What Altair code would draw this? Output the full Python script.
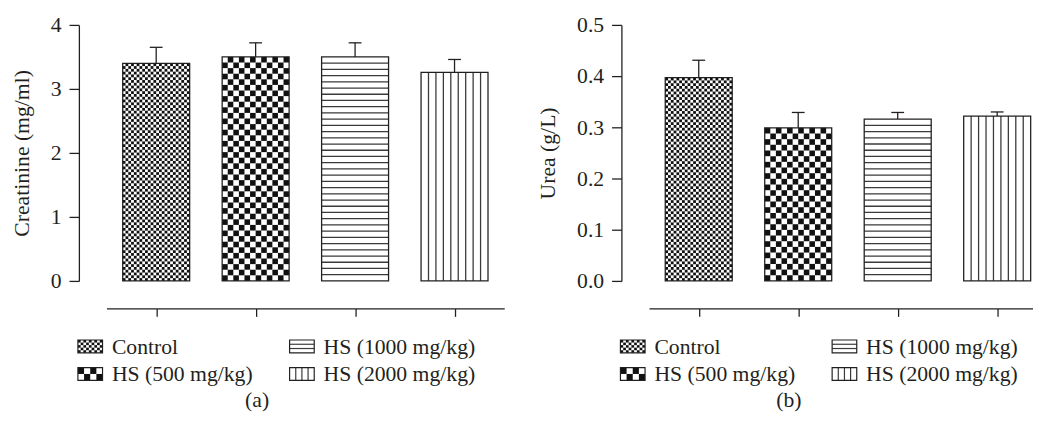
import altair as alt
import pandas as pd

# ---------------- data ----------------
categories = ["Control", "HS (500 mg/kg)", "HS (1000 mg/kg)", "HS (2000 mg/kg)"]
creatinine_mean = [3.40, 3.50, 3.50, 3.26]
creatinine_sem = [0.25, 0.22, 0.22, 0.20]
urea_mean = [0.397, 0.299, 0.316, 0.322]
urea_sem = [0.034, 0.030, 0.013, 0.008]
creatinine_ticks = [0, 1, 2, 3, 4]
urea_ticks = [0.0, 0.1, 0.2, 0.3, 0.4, 0.5]
fills = ["fine checker", "coarse checker", "horizontal lines", "vertical lines"]
captions = ["(a)", "(b)"]

# ---------------- styles ----------------
FONT = "Liberation Serif"
INK = "#231f20"
CHECK = "#111111"
STRIPE = "#3a3a3a"
FS = 22
PLOT_H = 260
PX_PER_CAT = 101
BAR_PX = 68
CAP_PX = 13
FINE_CELL = 68 / 24
COARSE_CELL = 68 / 12
HLINE_GAP = 6.3
VLINE_BANDS = 9
AXIS_OFFSET = 28
LEG_COL_PX = 215
LEG_ROW_PX = 28
LEG_SHIFT_PX = 29
LEG_TOP_PX = 17.5
SWATCH_W, SWATCH_H = 25, 13
LEG_TEXT_PX = 34.5
LEG_H = 84
CAPTION_BASE_PX = 79


def pattern_marks(kind, x0, x1, y0, y1, ux, uy, small=False):
    rects, hl, vl = [], [], []
    w_px = abs(x1 - x0) * ux
    h_px = abs(y1 - y0) * uy
    if kind.endswith("checker"):
        cell = FINE_CELL if kind.startswith("fine") else COARSE_CELL
        nc = max(1, round(w_px / cell))
        nr = max(1, round(h_px / cell))
        cw = (x1 - x0) / nc
        ch = (y1 - y0) / nr
        for r in range(nr):
            for c in range(nc):
                if (r + c) % 2 == 0:
                    rects.append({"x": x0 + c * cw, "x2": x0 + (c + 1) * cw,
                                  "y": y0 + r * ch, "y2": y0 + (r + 1) * ch})
    elif kind == "horizontal lines":
        n = 3 if small else max(1, round(h_px / HLINE_GAP))
        for k in range(1, n):
            hl.append({"x": x0, "x2": x1, "y": y0 + k * (y1 - y0) / n})
    else:
        n = 4 if small else VLINE_BANDS
        for k in range(1, n):
            vl.append({"x": x0 + k * (x1 - x0) / n, "y": y0, "y2": y1})
    return rects, hl, vl


def bar_panel(means, sems, ticks, fmt, title, xmax):
    ymax = ticks[-1]
    width = round((xmax + 0.5) * PX_PER_CAT)
    ux, uy = PX_PER_CAT, PLOT_H / ymax
    half = BAR_PX / 2 / ux
    cap = CAP_PX / 2 / ux
    df = pd.DataFrame({"cat": categories, "i": list(range(len(categories))),
                       "mean": means, "sem": sems})
    df["x0"] = df["i"] - half
    df["x1"] = df["i"] + half
    df["base"] = 0.0
    df["top"] = df["mean"] + df["sem"]
    df["c0"] = df["i"] - cap
    df["c1"] = df["i"] + cap
    R, H, V = [], [], []
    for i, kind in enumerate(fills):
        r, h, v = pattern_marks(kind, df["x0"][i], df["x1"][i], 0.0, means[i], ux, uy)
        R += r
        H += h
        V += v

    xs = alt.Scale(domain=[-0.5, xmax], nice=False, zero=False)
    ys = alt.Scale(domain=[0, ymax], nice=False, zero=False)
    xax = alt.Axis(values=[0, 1, 2, 3], labels=False, title=None, offset=AXIS_OFFSET,
                   tickSize=8, grid=False, domainColor=INK, tickColor=INK,
                   domainWidth=1.3, tickWidth=1.3)
    yax = alt.Axis(values=ticks, format=fmt, title=title, offset=AXIS_OFFSET,
                   tickSize=10, labelPadding=8, titlePadding=17, grid=False,
                   domainColor=INK, tickColor=INK, domainWidth=1.3, tickWidth=1.3)

    def X(f):
        return alt.X(f"{f}:Q", scale=xs, axis=xax)

    def Y(f):
        return alt.Y(f"{f}:Q", scale=ys, axis=yax)

    cells = alt.Chart(pd.DataFrame(R)).mark_rect(fill=CHECK, strokeWidth=0).encode(
        x=X("x"), x2="x2", y=Y("y"), y2="y2")
    hl = alt.Chart(pd.DataFrame(H)).mark_rule(color=STRIPE, strokeWidth=1.3).encode(
        x=X("x"), x2="x2", y=Y("y"))
    vl = alt.Chart(pd.DataFrame(V)).mark_rule(color=STRIPE, strokeWidth=1.3).encode(
        x=X("x"), y=Y("y"), y2="y2")
    outline = alt.Chart(df).mark_rect(fillOpacity=0, stroke=INK, strokeWidth=1.3).encode(
        x=X("x0"), x2="x1", y=Y("mean"), y2="base")
    err = alt.Chart(df).mark_rule(color=INK, strokeWidth=1.3).encode(
        x=X("i"), y=Y("mean"), y2="top")
    caps = alt.Chart(df).mark_rule(color=INK, strokeWidth=1.3).encode(
        x=X("c0"), x2="c1", y=Y("top"))
    return alt.layer(cells, hl, vl, outline, err, caps).properties(width=width, height=PLOT_H), width


def legend_panel(width, caption, caption_px):
    ux, uy = LEG_COL_PX, LEG_ROW_PX
    d0 = LEG_SHIFT_PX / ux
    xs = alt.Scale(domain=[d0, d0 + width / ux], nice=False, zero=False)
    y0 = -LEG_TOP_PX / uy
    ys = alt.Scale(domain=[y0, y0 + LEG_H / uy], nice=False, zero=False, reverse=True)
    leg = pd.DataFrame({"cat": categories, "kind": fills})
    leg["col"] = [i // 2 for i in range(len(categories))]
    leg["row"] = [i % 2 for i in range(len(categories))]
    leg["x0"] = leg["col"].astype(float)
    leg["x1"] = leg["col"] + SWATCH_W / ux
    leg["y0"] = leg["row"] - SWATCH_H / 2 / uy
    leg["y1"] = leg["row"] + SWATCH_H / 2 / uy
    leg["tx"] = leg["col"] + LEG_TEXT_PX / ux
    R, H, V = [], [], []
    for i, kind in enumerate(fills):
        r, h, v = pattern_marks(kind, leg["x0"][i], leg["x1"][i], leg["y0"][i], leg["y1"][i],
                                ux, uy, small=True)
        R += r
        H += h
        V += v

    def X(f):
        return alt.X(f"{f}:Q", scale=xs, axis=None)

    def Y(f):
        return alt.Y(f"{f}:Q", scale=ys, axis=None)

    cells = alt.Chart(pd.DataFrame(R)).mark_rect(fill=CHECK, strokeWidth=0).encode(
        x=X("x"), x2="x2", y=Y("y"), y2="y2")
    hl = alt.Chart(pd.DataFrame(H)).mark_rule(color=STRIPE, strokeWidth=1.2).encode(
        x=X("x"), x2="x2", y=Y("y"))
    vl = alt.Chart(pd.DataFrame(V)).mark_rule(color=STRIPE, strokeWidth=1.2).encode(
        x=X("x"), y=Y("y"), y2="y2")
    box = alt.Chart(leg).mark_rect(fillOpacity=0, stroke=INK, strokeWidth=1.2).encode(
        x=X("x0"), x2="x1", y=Y("y0"), y2="y1")
    labels = alt.Chart(leg).mark_text(font=FONT, fontSize=FS, color=INK, align="left",
                                      baseline="alphabetic", dy=7.5).encode(
        x=X("tx"), y=Y("row"), text="cat:N")
    cap_df = pd.DataFrame({"label": [caption],
                           "cx": [caption_px / ux + d0],
                           "cy": [(CAPTION_BASE_PX - LEG_TOP_PX) / uy]})
    cap = alt.Chart(cap_df).mark_text(font=FONT, fontSize=FS, color=INK, align="center",
                                      baseline="alphabetic", clip=True).encode(
        x=X("cx"), y=Y("cy"), text="label:N")
    return alt.layer(cells, hl, vl, box, labels, cap).properties(width=width, height=LEG_H)


bars_a, wa = bar_panel(creatinine_mean, creatinine_sem, creatinine_ticks, "d",
                       "Creatinine (mg/ml)", 3.5)
bars_b, wb = bar_panel(urea_mean, urea_sem, urea_ticks, ".1f", "Urea (g/L)", 3.36)
leg_a = legend_panel(wa, captions[0], 153)
leg_b = legend_panel(wb, captions[1], 142)

chart = alt.hconcat(
    alt.vconcat(bars_a, leg_a, spacing=12),
    alt.vconcat(bars_b, leg_b, spacing=12),
    spacing=33,
).properties(
    padding={"left": 3, "top": 3, "right": 0, "bottom": 0}
).configure(
    background="white"
).configure_view(
    stroke=None
).configure_axis(
    labelFont=FONT, titleFont=FONT, labelFontSize=FS, titleFontSize=FS,
    labelColor=INK, titleColor=INK, titleFontWeight="normal"
)

chart.save("out.html", embed_options={"renderer": "svg", "actions": False})
